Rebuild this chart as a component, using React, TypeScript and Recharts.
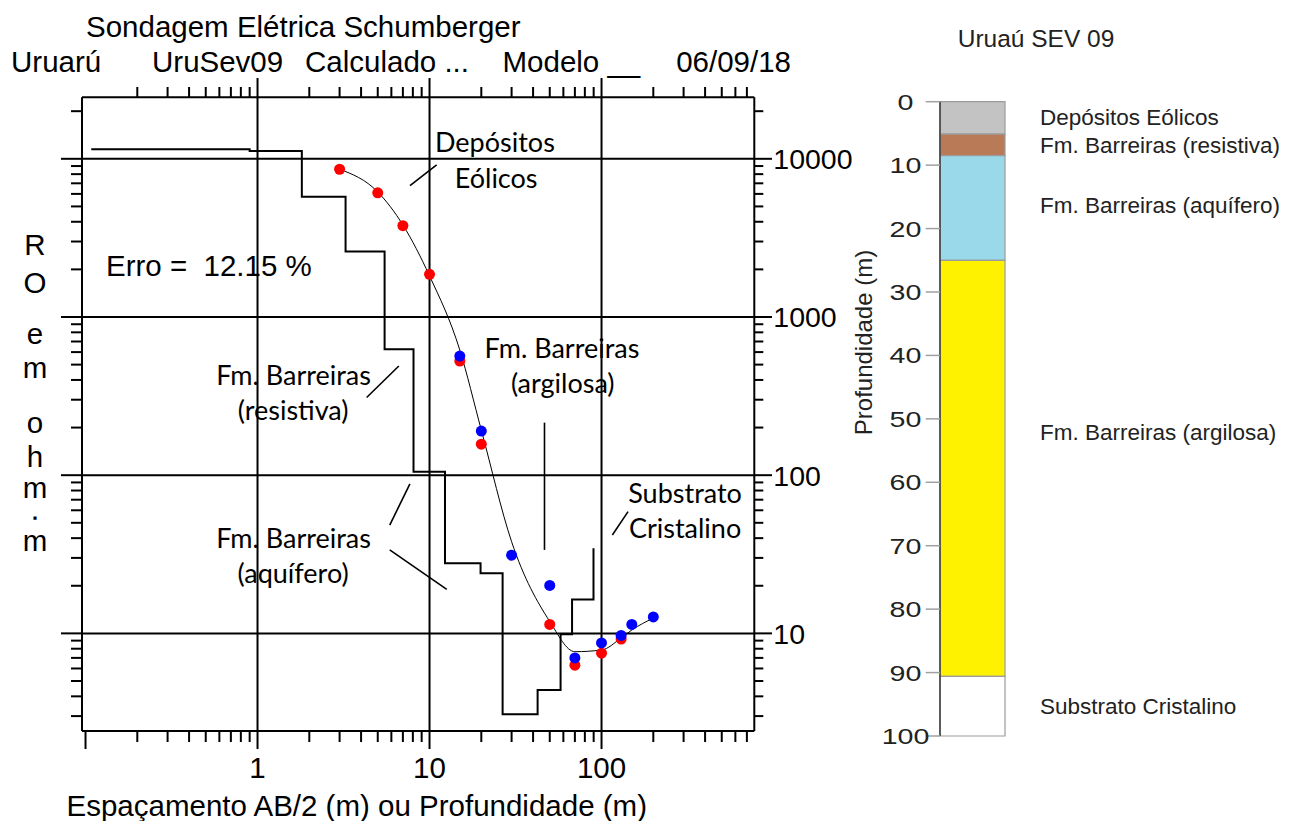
import React from "react";
import {
  Bar,
  ComposedChart,
  Line,
  ReferenceDot,
  ReferenceLine,
  Scatter,
  XAxis,
  YAxis,
} from "recharts";

// Curva de campo (vermelho), pontos calculados (azul) e curva ajustada
const OBS_AB2 = [3, 5, 7, 10, 15, 20, 50, 70, 100, 130];
const OBS_RHO = [8590, 6100, 3780, 1860, 527, 157, 11.4, 6.3, 7.5, 9.2];
const CALC_AB2 = [15, 20, 30, 50, 70, 100, 130, 150, 200];
const CALC_RHO = [566, 190, 31.2, 20.1, 7.0, 8.7, 9.7, 11.4, 12.7];
const CURVE_AB2 = [3, 5, 7, 10, 15, 20, 30, 50, 70, 100, 130, 150, 200];
const CURVE_RHO = [8590, 6170, 3820, 1820, 618, 193, 38, 11.9, 7.66, 7.85, 9.35, 10.5, 12.5];

// Modelo em camadas: profundidade do topo e resistividade
const MODEL_DEPTH = [0.108, 0.9, 1.81, 3.25, 5.48, 8.07, 12.3, 19.8, 26.6, 42.5, 57.8, 67.4, 89.8];
const MODEL_RHO = [11500, 11200, 5760, 2590, 625, 105, 27.8, 24.0, 3.08, 4.39, 9.87, 16.4, 34.5];

// Eixos log
const X_DOMAIN = [0.0954, 773];
const Y_DOMAIN = [2.415, 24480];
const X_TICKS = [
  0.1, 0.2, 0.3, 0.4, 0.5, 0.6, 0.7, 0.8, 0.9,
  1, 2, 3, 4, 5, 6, 7, 8, 9,
  10, 20, 30, 40, 50, 60, 70, 80, 90,
  100, 200, 300, 400, 500, 600, 700,
];
const X_TOP_TICKS = X_TICKS.slice(1);
const X_MAJOR = [0.1, 1, 10, 100];
const X_LABELS = [1, 10, 100];
const Y_TICKS = [
  3, 4, 5, 6, 7, 8, 9,
  10, 20, 30, 40, 50, 60, 70, 80, 90,
  100, 200, 300, 400, 500, 600, 700, 800, 900,
  1000, 2000, 3000, 4000, 5000, 6000, 7000, 8000, 9000,
  10000, 20000,
];
const Y_MAJOR = [10, 100, 1000, 10000];

// Anotações geológicas sobre o gráfico
const NOTES = [
  { text: "Depósitos", x: 24.0, y: 11090 },
  { text: "Eólicos", x: 24.4, y: 6510 },
  { text: "Fm. Barreiras", x: 58.9, y: 548 },
  { text: "(argilosa)", x: 59.5, y: 329 },
  { text: "Fm. Barreiras", x: 1.62, y: 372 },
  { text: "(resistiva)", x: 1.61, y: 223 },
  { text: "Fm. Barreiras", x: 1.62, y: 34.5 },
  { text: "(aquífero)", x: 1.61, y: 20.7 },
  { text: "Substrato", x: 306, y: 66.4 },
  { text: "Cristalino", x: 306, y: 39.9 },
];
const LEADERS = [
  [{ x: 7.7, y: 6760 }, { x: 11.0, y: 9140 }],
  [{ x: 46.6, y: 215 }, { x: 46.6, y: 33.7 }],
  [{ x: 4.31, y: 310 }, { x: 6.63, y: 490 }],
  [{ x: 5.87, y: 48.4 }, { x: 7.69, y: 88 }],
  [{ x: 5.87, y: 33.7 }, { x: 12.6, y: 19.0 }],
  [{ x: 115.6, y: 41.9 }, { x: 142.6, y: 58.8 }],
];

// Perfil litológico
const LAYER_KEYS = ["eol", "res", "aqu", "arg", "sub"];
const LAYER_NAMES = [
  "Depósitos Eólicos",
  "Fm. Barreiras (resistiva)",
  "Fm. Barreiras (aquífero)",
  "Fm. Barreiras (argilosa)",
  "Substrato Cristalino",
];
const LAYER_THICKNESS = [5.1, 3.4, 16.5, 65.6, 9.4];
const LAYER_COLORS = ["#c3c3c3", "#b97a57", "#99d9ea", "#fff200", "#ffffff"];
const LAYER_NOTE_DEPTH = [3.67, 8.08, 17.6, 53.3, 96.6];
const DEPTH_TICKS = [0, 10, 20, 30, 40, 50, 60, 70, 80, 90, 100];
const WELL = "SEV 09";

const ARIAL = '"Liberation Sans", Arial, sans-serif';
const NOTE_FONT = 'Lato, "Open Sans", sans-serif';

const pts = (xs: number[], ys: number[]) => xs.map((x, i) => ({ x, y: ys[i] }));
const obsData = pts(OBS_AB2, OBS_RHO);
const calcData = pts(CALC_AB2, CALC_RHO);
const curveData = pts(CURVE_AB2, CURVE_RHO);
const modelData = pts(MODEL_DEPTH, MODEL_RHO);

const column = [
  LAYER_KEYS.reduce<Record<string, number | string>>(
    (row, k, i) => ({ ...row, [k]: LAYER_THICKNESS[i] }),
    { name: WELL }
  ),
];

function BottomTick({ x, y, payload }: any) {
  const v = payload.value;
  const major = X_MAJOR.includes(v);
  return (
    <g>
      <line x1={x} x2={x} y1={y} y2={y + (major ? 18 : 11)} stroke="#000" strokeWidth={2} />
      {X_LABELS.includes(v) && (
        <text x={x} y={y + 47} textAnchor="middle" fontFamily={ARIAL} fontSize={29.5} fill="#000">
          {v}
        </text>
      )}
    </g>
  );
}

function TopTick({ x, y, payload }: any) {
  const major = X_MAJOR.includes(payload.value);
  return <line x1={x} x2={x} y1={y - (major ? 19.3 : 10.3)} y2={y} stroke="#000" strokeWidth={2} />;
}

function LeftTick({ x, y, payload }: any) {
  const major = Y_MAJOR.includes(payload.value);
  return <line x1={x - (major ? 21 : 11)} x2={x} y1={y} y2={y} stroke="#000" strokeWidth={2} />;
}

function RightTick({ x, y, payload }: any) {
  const major = Y_MAJOR.includes(payload.value);
  return (
    <g>
      <line x1={x} x2={x + (major ? 17.7 : 9)} y1={y} y2={y} stroke="#000" strokeWidth={2} />
      {major && (
        <text x={x + 19} y={y + 10.5} fontFamily={ARIAL} fontSize={28.5} fill="#000">
          {payload.value}
        </text>
      )}
    </g>
  );
}

function DepthTick({ x, y, payload }: any) {
  return (
    <g>
      <line x1={x - 14.3} x2={x} y1={y} y2={y} stroke="#a0a0a0" strokeWidth={1.5} />
      <text
        transform={`translate(${x - 34.5} ${y + 8}) scale(1.3 1)`}
        textAnchor="middle"
        fontFamily={ARIAL}
        fontSize={22}
        fill="#222"
      >
        {payload.value}
      </text>
    </g>
  );
}

const depthLabel = ({ viewBox }: any) => {
  const cx = viewBox.x + 23;
  const cy = viewBox.y + 240.8;
  return (
    <text
      x={cx}
      y={cy}
      transform={`rotate(-90 ${cx} ${cy})`}
      textAnchor="middle"
      dominantBaseline="central"
      fontFamily={ARIAL}
      fontSize={24}
      fill="#222"
    >
      Profundidade (m)
    </text>
  );
};

const dotShape = (fill: string) => (p: any) => <circle cx={p.cx} cy={p.cy} r={5.5} fill={fill} />;

const axisLine = { stroke: "#000", strokeWidth: 2 };
const logAxis = {
  type: "number" as const,
  scale: "log" as const,
  allowDataOverflow: true,
  interval: 0 as const,
  tickSize: 0,
  tickMargin: 0,
  tickLine: false,
  axisLine,
};

function SoundingChart() {
  return (
    <ComposedChart width={860} height={821} margin={{ top: 0, right: 0, bottom: 0, left: 0 }}>
      <XAxis {...logAxis} xAxisId="b" dataKey="x" orientation="bottom" height={90}
        domain={X_DOMAIN} ticks={X_TICKS} tick={<BottomTick />} />
      <XAxis {...logAxis} xAxisId="t" dataKey="x" orientation="top" height={97.3}
        domain={X_DOMAIN} ticks={X_TOP_TICKS} tick={<TopTick />} />
      <YAxis {...logAxis} yAxisId="l" dataKey="y" orientation="left" width={82}
        domain={Y_DOMAIN} ticks={Y_TICKS} tick={<LeftTick />} />
      <YAxis {...logAxis} yAxisId="r" dataKey="y" orientation="right" width={105.7}
        domain={Y_DOMAIN} ticks={Y_TICKS} tick={<RightTick />} />

      {X_LABELS.map((v) => (
        <ReferenceLine key={`gx${v}`} x={v} xAxisId="b" yAxisId="l" stroke="#000" strokeWidth={2} />
      ))}
      {Y_MAJOR.map((v) => (
        <ReferenceLine key={`gy${v}`} y={v} xAxisId="b" yAxisId="l" stroke="#000" strokeWidth={2} />
      ))}

      <Line data={modelData} dataKey="y" xAxisId="b" yAxisId="l" type="stepAfter"
        stroke="#000" strokeWidth={2} dot={false} isAnimationActive={false} />
      <Line data={curveData} dataKey="y" xAxisId="b" yAxisId="l" type="monotone"
        stroke="#000" strokeWidth={1} dot={false} isAnimationActive={false} />
      <Scatter data={obsData} xAxisId="b" yAxisId="l" shape={dotShape("#ff0000")} isAnimationActive={false} />
      <Scatter data={calcData} xAxisId="b" yAxisId="l" shape={dotShape("#0000ff")} isAnimationActive={false} />

      {LEADERS.map((seg, i) => (
        <ReferenceLine key={`ld${i}`} segment={seg} xAxisId="b" yAxisId="l"
          stroke="#000" strokeWidth={1.6} ifOverflow="visible" />
      ))}
      {NOTES.map((n, i) => (
        <ReferenceDot key={`nt${i}`} x={n.x} y={n.y} xAxisId="b" yAxisId="l" r={0} ifOverflow="visible"
          shape={(p: any) => (
            <text x={p.cx} y={p.cy} textAnchor="middle" fontFamily={NOTE_FONT} fontSize={27} fill="#000">
              {n.text}
            </text>
          )}
        />
      ))}
      <ReferenceDot x={0.1316} y={1816} xAxisId="b" yAxisId="l" r={0} ifOverflow="visible"
        shape={(p: any) => (
          <text x={p.cx} y={p.cy} fontFamily={ARIAL} fontSize={29.5} fill="#000" xmlSpace="preserve">
            {"Erro =  12.15 %"}
          </text>
        )}
      />
    </ComposedChart>
  );
}

function ColumnChart() {
  return (
    <ComposedChart width={450} height={821} data={column} barCategoryGap={0}
      margin={{ top: 101.7, right: 285, bottom: 85, left: 0 }}>
      <XAxis dataKey="name" type="category" hide height={0} />
      <YAxis type="number" domain={[0, 100]} ticks={DEPTH_TICKS} reversed width={100} interval={0}
        tickSize={0} tickMargin={0} tickLine={false} tick={<DepthTick />}
        axisLine={{ stroke: "#3a3a3a", strokeWidth: 1.5 }} label={depthLabel} />
      {LAYER_KEYS.map((k, i) => (
        <Bar key={k} dataKey={k} stackId="perfil" fill={LAYER_COLORS[i]}
          stroke="#9c9c9c" strokeWidth={1.2} isAnimationActive={false} />
      ))}
      {LAYER_NOTE_DEPTH.map((d, i) => (
        <ReferenceDot key={`ln${i}`} x={WELL} y={d} r={0} ifOverflow="visible"
          shape={(p: any) => (
            <text x={p.cx + 67.5} y={p.cy} fontFamily={ARIAL} fontSize={22.5} fill="#222">
              {LAYER_NAMES[i]}
            </text>
          )}
        />
      ))}
    </ComposedChart>
  );
}

// Rótulo vertical "RO em ohm.m", uma letra por linha; o ponto vai menor
const RO_LETTERS: [string, number, number][] = [
  ["R", 255, 29.5], ["O", 293, 29.5], ["e", 343.5, 29.5], ["m", 377.5, 29.5], ["o", 432.5, 29.5],
  ["h", 467, 29.5], ["m", 497.5, 29.5], [".", 519, 16], ["m", 550.5, 29.5],
];

export default function App() {
  return (
    <div style={{ position: "absolute", left: 0, top: 0, width: 1290, height: 821, background: "#fff" }}>
      <div style={{ position: "absolute", left: 0, top: 0 }}>
        <SoundingChart />
      </div>
      <div style={{ position: "absolute", left: 840, top: 0 }}>
        <ColumnChart />
      </div>
      <svg width={1290} height={821} style={{ position: "absolute", left: 0, top: 0, pointerEvents: "none" }}>
        <g fontFamily={ARIAL} fontSize={29.5} fill="#000">
          <text x={86} y={36.5}>Sondagem Elétrica Schumberger</text>
          <text x={11} y={71.7}>Uruarú</text>
          <text x={152} y={71.7}>UruSev09</text>
          <text x={305} y={71.7}>Calculado ...</text>
          <text x={502.5} y={71.7}>Modelo __</text>
          <text x={791} y={71.7} textAnchor="end">06/09/18</text>
          {RO_LETTERS.map(([c, y, fs], i) => (
            <text key={i} x={35} y={y} fontSize={fs} textAnchor="middle"
              stroke={c === "." ? "#000" : "none"} strokeWidth={1.5}>
              {c}
            </text>
          ))}
          <text x={66.5} y={816}>Espaçamento AB/2 (m) ou Profundidade (m)</text>
        </g>
        <text x={1036} y={46.7} textAnchor="middle" fontFamily={ARIAL} fontSize={24.5} fill="#222">
          Uruaú SEV 09
        </text>
      </svg>
    </div>
  );
}
